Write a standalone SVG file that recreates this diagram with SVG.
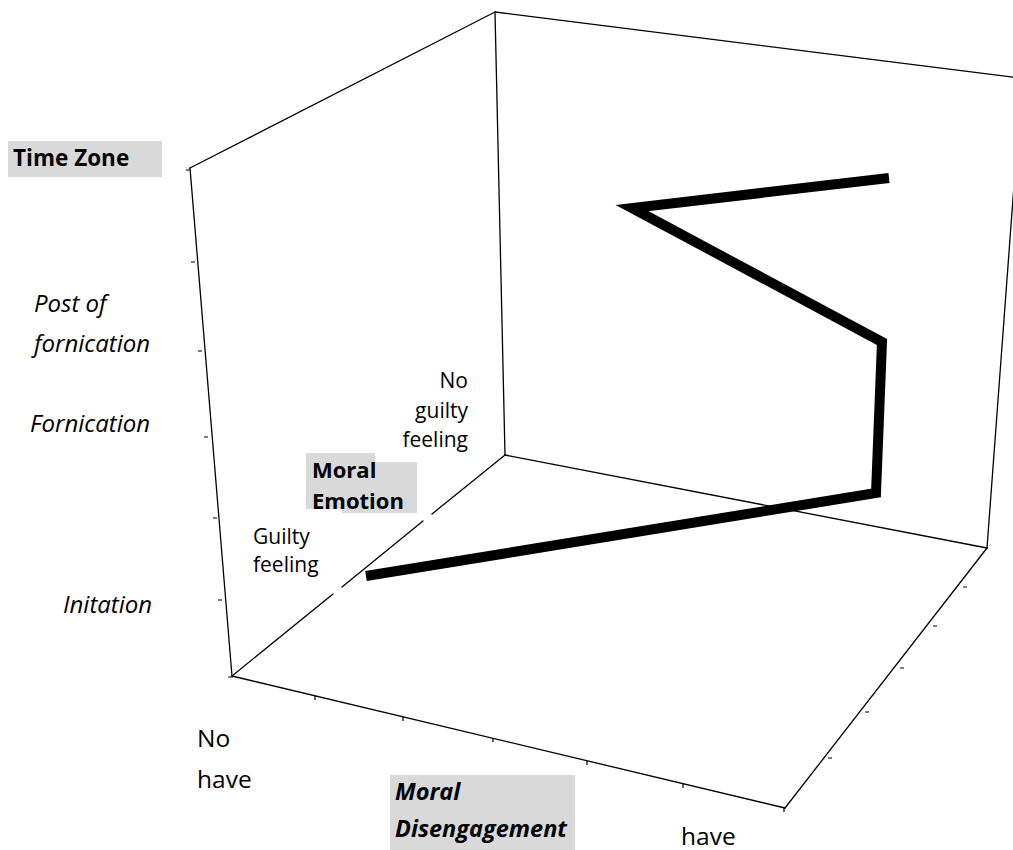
<svg xmlns="http://www.w3.org/2000/svg" width="1013" height="850" viewBox="0 0 1013 850">
<style>
.ax{stroke:#000;stroke-width:1.3;fill:none;stroke-linecap:round}
.tk{stroke:#000;stroke-width:1.2;fill:none}
.data{stroke:#000;stroke-width:10;fill:none;stroke-linejoin:miter}
.lbl{font-family:"Open Sans","Liberation Sans",sans-serif;fill:#000}
.it{font-style:italic}
.bd{font-weight:bold}
.box{fill:#d9d9d9}
</style>
<rect width="1013" height="850" fill="#fff"/>
<g id="connectors">
<g id="axes">
<line class="ax" x1="495" y1="12" x2="190" y2="168"/>
<line class="ax" x1="495" y1="12" x2="1020" y2="78"/>
<line class="ax" x1="495" y1="12" x2="505" y2="455"/>
<line class="ax" x1="190" y1="168" x2="232" y2="676"/>
<line class="ax" x1="232" y1="676" x2="785" y2="808"/>
<line class="ax" x1="785" y1="808" x2="987" y2="548"/>
<line class="ax" x1="987" y1="548" x2="1014" y2="185"/>
<line class="ax" x1="505" y1="455" x2="987" y2="548"/>
<line class="ax" x1="505" y1="455" x2="432" y2="514"/>
<line class="ax" x1="423" y1="521" x2="342" y2="587"/>
<line class="ax" x1="333" y1="594" x2="232" y2="676"/>
</g>
<g id="ticks">
<path class="tk" d="M186 170h4 M191 262h4 M198 351h4 M204 437h4 M213 518h4 M218 600h4 M228 677h5"/>
<path class="tk" d="M315 696v4 M403 717v4 M493 738v4 M587 761v4 M683 784v4 M784 807v5"/>
<path class="tk" d="M963 587h4 M933 626h4 M900 668h4 M865 712h4 M828 758h4"/>
</g>
<polyline id="data-line" class="data" points="366,576 876,493 882,342 632,208 889,178"/>
</g>
<g id="time-zone">
<rect class="box" x="8" y="141" width="154" height="36"/>
<text class="lbl bd" x="13" y="166" font-size="22.5">Time Zone</text>
</g>
<g id="post-of-fornication">
<text class="lbl it" x="34" y="312" font-size="24">Post of</text>
<text class="lbl it" x="34" y="352" font-size="24">fornication</text>
</g>
<g id="fornication">
<text class="lbl it" x="30" y="432" font-size="24">Fornication</text>
</g>
<g id="initation">
<text class="lbl it" x="63" y="613" font-size="24">Initation</text>
</g>
<g id="no-guilty-feeling">
<text class="lbl" x="468" y="388" font-size="21" text-anchor="end">No</text>
<text class="lbl" x="468" y="418" font-size="21" text-anchor="end">guilty</text>
<text class="lbl" x="468" y="447" font-size="21" text-anchor="end">feeling</text>
</g>
<g id="moral-emotion">
<rect class="box" x="306" y="453" width="69" height="56"/>
<rect class="box" x="342" y="462" width="75" height="51"/>
<text class="lbl bd" x="312" y="478" font-size="22">Moral</text>
<text class="lbl bd" x="312" y="509" font-size="22">Emotion</text>
</g>
<g id="guilty-feeling">
<text class="lbl" x="253" y="544" font-size="21">Guilty</text>
<text class="lbl" x="253" y="572" font-size="21">feeling</text>
</g>
<g id="no-have">
<text class="lbl" x="197" y="747" font-size="24.5">No</text>
<text class="lbl" x="197" y="788" font-size="24.5">have</text>
</g>
<g id="moral-disengagement">
<rect class="box" x="390" y="775" width="185" height="75"/>
<text class="lbl bd it" x="395" y="800" font-size="23.5">Moral</text>
<text class="lbl bd it" x="395" y="837" font-size="23.5">Disengagement</text>
</g>
<g id="have">
<text class="lbl" x="681" y="845" font-size="24.5">have</text>
</g>
</svg>
